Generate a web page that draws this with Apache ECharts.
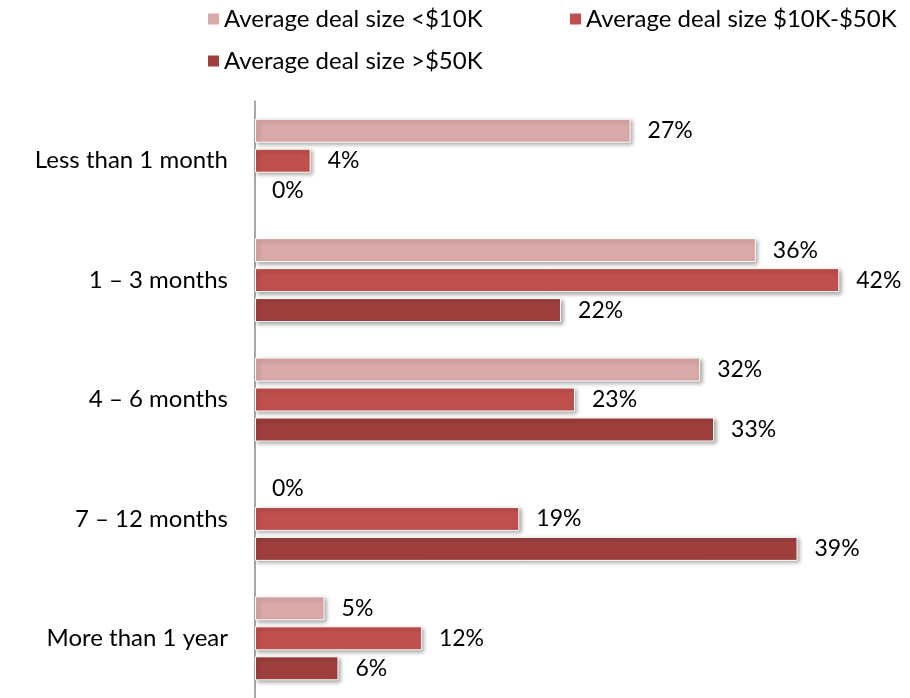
<!DOCTYPE html>
<html>
<head>
<meta charset="utf-8">
<script src="https://cdn.jsdelivr.net/npm/echarts@6/dist/echarts.min.js"></script>
<style>
html,body{margin:0;padding:0;background:#fff;}
#chart{width:910px;height:698px;}
</style>
</head>
<body>
<div id="chart"></div>
<script>
const categories = ['Less than 1 month', '1 \u2013 3 months', '4 \u2013 6 months', '7 \u2013 12 months', 'More than 1 year'];
const seriesNames = ['Average deal size <$10K', 'Average deal size $10K-$50K', 'Average deal size >$50K'];
const small = [27, 36, 32, 0, 5];
const medium = [4, 42, 23, 19, 12];
const large = [0, 22, 33, 39, 6];
const colors = ['#DAA9A9', '#C0504D', '#9E3F3D'];

const FONT = 'Lato';
const chart = echarts.init(document.getElementById('chart'));

function mkData(values) {
  return values.map(function (v) {
    if (v === 0) {
      return { value: v, itemStyle: { borderWidth: 0, shadowBlur: 0, shadowOffsetX: 0, shadowOffsetY: 0, opacity: 0 }, label: { opacity: 1 } };
    }
    return v;
  });
}

function mkSeries(name, data, color) {
  return {
    name: name,
    type: 'bar',
    data: mkData(data),
    barWidth: 24,
    barGap: '25%',
    itemStyle: {
      color: color,
      borderColor: '#ffffff',
      borderWidth: 1,
      shadowColor: 'rgba(0,0,0,0.35)',
      shadowBlur: 4,
      shadowOffsetX: 2,
      shadowOffsetY: 2
    },
    label: {
      show: true,
      position: 'right',
      distance: 17,
      formatter: '{c}%',
      color: '#000',
      fontFamily: FONT,
      fontSize: 23
    },
    emphasis: { disabled: true },
    animation: false
  };
}

function mkLegend(name, left, top) {
  return {
    data: [{ name: name, itemStyle: { borderWidth: 0, shadowBlur: 0, shadowOffsetX: 0, shadowOffsetY: 0 } }],
    left: left,
    top: top,
    icon: 'rect',
    itemWidth: 11,
    itemHeight: 11,
    selectedMode: false,
    textStyle: { fontFamily: FONT, fontSize: 24, color: '#000' }
  };
}

chart.setOption({
  animation: false,
  legend: [
    mkLegend(seriesNames[0], 203, 2),
    mkLegend(seriesNames[1], 565, 2),
    mkLegend(seriesNames[2], 203, 44)
  ],
  grid: { left: 255, top: 101, width: 626, height: 598, containLabel: false },
  xAxis: {
    type: 'value', min: 0, max: 45, show: false, splitLine: { show: false }
  },
  yAxis: {
    type: 'category',
    data: categories,
    inverse: true,
    axisLine: { show: true, lineStyle: { color: '#8a8a8a', width: 1.5 } },
    axisTick: { show: false },
    axisLabel: { margin: 27, color: '#000', fontFamily: FONT, fontSize: 24 }
  },
  series: [
    mkSeries(seriesNames[0], small, colors[0]),
    mkSeries(seriesNames[1], medium, colors[1]),
    mkSeries(seriesNames[2], large, colors[2])
  ]
});
</script>
</body>
</html>
